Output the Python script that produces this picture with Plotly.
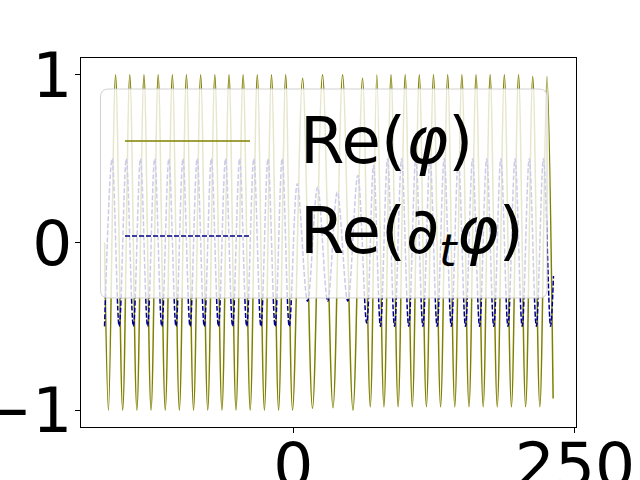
import plotly.graph_objects as go

# ---- data (x positions of extrema and their values) ----
olive_x = [-167.6,
           -164.1, -157.8, -151.5, -145.2, -138.9, -132.6, -126.3, -120.0, -113.7,
           -107.4, -101.2, -94.9, -88.6, -82.3, -76.0, -69.7, -63.4, -57.1, -50.9,
           -44.6, -38.3, -32.0, -25.7, -19.4, -13.1, -6.8, -0.7,
           8.2, 17.0, 25.9, 35.2, 43.7, 52.9, 61.4, 68.3,
           74.1, 80.4, 86.7, 93.0, 99.3, 105.6, 111.8, 118.1, 124.4, 130.7, 137.0,
           143.3, 149.6, 155.9, 162.2, 168.5, 174.7, 181.0, 187.3, 193.6, 199.9,
           206.2, 212.5, 218.8, 225.1,
           230.6]
olive_y = [0.0,
           -1.0, 1.0, -1.0, 1.0, -1.0, 1.0, -1.0, 1.0, -1.0,
           1.0, -1.0, 1.0, -1.0, 1.0, -1.0, 1.0, -1.0, 1.0, -1.0,
           1.0, -1.0, 1.0, -1.0, 1.0, -1.0, 1.0, -1.0,
           0.98, -0.99, 1.0, -0.985, 1.0, -1.0, 0.98, -0.98,
           1.0, -0.98, 1.0, -0.98, 1.0, -0.98, 1.0, -0.98, 1.0, -0.98, 1.0,
           -0.98, 1.0, -0.98, 1.0, -0.98, 1.0, -0.98, 1.0, -0.98, 1.0,
           -0.98, 0.99, -0.98, 0.99,
           -0.93]

blue_x = [-167.6,
          -160.9, -154.6, -148.3, -142.0, -135.7, -129.4, -123.1, -116.8, -110.5,
          -104.2, -98.0, -91.7, -85.4, -79.1, -72.8, -66.5, -60.2, -53.9, -47.7,
          -41.4, -35.1, -28.8, -22.5, -16.2, -9.9, -3.6,
          3.5, 12.6, 21.5, 30.5, 39.0, 48.3, 57.2, 65.1,
          71.2, 77.3, 83.6, 89.8, 96.1, 102.4, 108.7, 115.0, 121.3, 127.6, 133.9,
          140.2, 146.5, 152.8, 159.1, 165.3, 171.6, 177.9, 184.2, 190.5, 196.8,
          203.1, 209.4, 215.7, 222.0, 228.3,
          230.9]
blue_y = [-0.5,
          0.5, -0.5, 0.5, -0.5, 0.5, -0.5, 0.5, -0.5, 0.5,
          -0.5, 0.5, -0.5, 0.5, -0.5, 0.5, -0.5, 0.5, -0.5, 0.5,
          -0.5, 0.5, -0.5, 0.5, -0.5, 0.5, -0.5,
          0.35, -0.35, 0.33, -0.35, 0.3, -0.35, 0.4, -0.48,
          0.46, -0.5, 0.5, -0.5, 0.5, -0.5, 0.5, -0.5, 0.5, -0.5, 0.5,
          -0.5, 0.5, -0.5, 0.5, -0.5, 0.5, -0.5, 0.5, -0.5, 0.5,
          -0.5, 0.5, -0.5, 0.5, -0.5,
          -0.2]

x_ticks = [0, 250]
y_ticks = [-1, 0, 1]
y_tick_text = ["−1", "0", "1"]
legend_labels = ["Re(<i>φ</i>)", "Re(<i>∂</i><sub><i>t</i></sub><i>φ</i>)"]

OLIVE = "#808000"
BLUE = "#00008b"
FONT = "DejaVu Sans"

fig = go.Figure()
fig.add_trace(go.Scatter(x=olive_x, y=olive_y, mode="lines",
                         line=dict(color=OLIVE, width=1.5, shape="spline"),
                         showlegend=False))
fig.add_trace(go.Scatter(x=blue_x, y=blue_y, mode="lines",
                         line=dict(color=BLUE, width=1.5, dash="5px,2px", shape="spline"),
                         showlegend=False))

# plot area in pixels
L, R, T, B = 81, 576, 58, 427
W, H = R - L, B - T


def px(xp):
    return (xp - L) / W


def py(yp):
    return (B - yp) / H


# legend box with rounded corners (semi-transparent)
x0, x1, y0, y1 = px(100.5), px(547), py(298), py(89)
rx, ry = 8 / W, 8 / H
path = (f"M {x0+rx},{y1} L {x1-rx},{y1} Q {x1},{y1} {x1},{y1-ry} "
        f"L {x1},{y0+ry} Q {x1},{y0} {x1-rx},{y0} L {x0+rx},{y0} "
        f"Q {x0},{y0} {x0},{y0+ry} L {x0},{y1-ry} Q {x0},{y1} {x0+rx},{y1} Z")
shapes = [
    dict(type="path", path=path, xref="paper", yref="paper", layer="above",
         fillcolor="rgba(255,255,255,0.8)", line=dict(color="rgba(204,204,204,0.9)", width=1)),
    dict(type="line", xref="paper", yref="paper", layer="above",
         x0=px(125), x1=px(250), y0=py(141), y1=py(141),
         line=dict(color=OLIVE, width=1.5)),
    dict(type="line", xref="paper", yref="paper", layer="above",
         x0=px(125), x1=px(250), y0=py(236), y1=py(236),
         line=dict(color=BLUE, width=1.5, dash="5px,2px")),
]
annotations = [
    dict(text=legend_labels[0], xref="paper", yref="paper", x=px(298), y=py(141),
         xanchor="left", yanchor="middle", showarrow=False,
         font=dict(family=FONT, size=64, color="black")),
    dict(text=legend_labels[1], xref="paper", yref="paper", x=px(298), y=py(236),
         xanchor="left", yanchor="middle", showarrow=False,
         font=dict(family=FONT, size=64, color="black")),
]

fig.update_layout(
    width=640, height=480,
    margin=dict(l=L, r=640 - R, t=T, b=480 - B, autoexpand=False),
    paper_bgcolor="white", plot_bgcolor="white",
    font=dict(family=FONT, size=63, color="black"),
    shapes=shapes, annotations=annotations,
    xaxis=dict(range=[-188.5, 250.9], tickvals=x_ticks, ticktext=[str(v) for v in x_ticks],
               showgrid=False, zeroline=False, showline=True, mirror=True,
               linecolor="black", linewidth=1, ticks="outside", ticklen=5,
               tickcolor="black", tickfont=dict(size=63, family=FONT),
               ticklabelstandoff=-22),
    yaxis=dict(range=[-1.1, 1.1], tickvals=y_ticks, ticktext=y_tick_text,
               showgrid=False, zeroline=False, showline=True, mirror=True,
               linecolor="black", linewidth=1, ticks="outside", ticklen=5,
               tickcolor="black", tickfont=dict(size=63, family=FONT),
               ticklabelstandoff=-10),
)

fig.write_html("out.html", config={"displayModeBar": False},
               post_script="document.body.style.margin='0';")
